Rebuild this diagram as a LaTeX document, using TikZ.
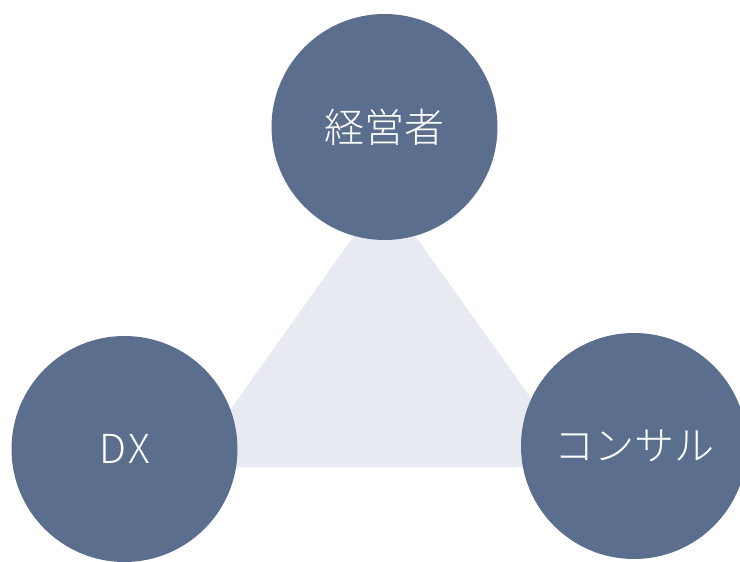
\documentclass[tikz,border=0pt]{standalone}
\usepackage{fontspec}
\IfFontExistsTF{Noto Sans CJK JP Light}
  {\newfontfamily\jp{Noto Sans CJK JP Light}}
  {\newfontfamily\jp{Noto Sans CJK JP}}
\definecolor{circ}{HTML}{5B6E8E}
\definecolor{tri}{HTML}{E7EAF0}
\begin{document}
\begin{tikzpicture}[x=1pt,y=-1pt,
  role/.style={circle,fill=circ,minimum size=226pt,inner sep=0pt,text=white,font=\jp\fontsize{40}{44}\selectfont}]
\useasboundingbox (0,0) rectangle (740,562);
\begin{scope}
\clip (0,0) rectangle (740,562);
\coordinate (ta) at (384.5,193);
\coordinate (tl) at (189.5,467);
\coordinate (tr) at (580,467);
\fill[tri] (ta) -- (tl) -- (tr) -- cycle;
\node[role] (top) at (384.5,127) {経営者};
\node[role] (dx) at (124.5,449) {D\kern2ptX};
\node[role] (con) at (634,446) {コンサル};
\end{scope}
\end{tikzpicture}
\end{document}
